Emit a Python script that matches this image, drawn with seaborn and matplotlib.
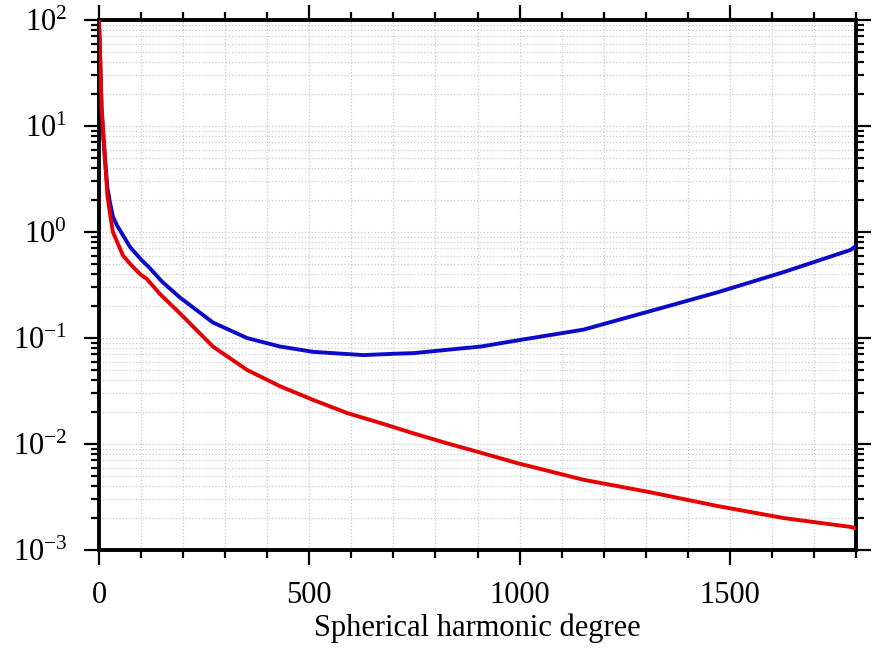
import matplotlib
matplotlib.use("Agg")
import matplotlib.pyplot as plt
import matplotlib.ticker as mticker
import seaborn as sns
import pandas as pd

# degree / value pairs
blue_deg = [0, 3, 6, 10, 15, 20, 26, 33, 43, 74, 100, 120, 150, 193, 271, 352,
            431, 510, 629, 700, 748, 836, 907, 995, 1152, 1312, 1471, 1629, 1788, 1800]
blue_val = [100, 40, 15, 8, 4.5, 2.6, 1.9, 1.4, 1.15, 0.72, 0.55, 0.46, 0.34, 0.24, 0.14, 0.10,
            0.083, 0.074, 0.069, 0.071, 0.072, 0.078, 0.083, 0.095, 0.12, 0.18, 0.27, 0.42, 0.68, 0.74]

red_deg = [0, 3, 6, 10, 14, 20, 26, 33, 57, 74, 98, 114, 145, 193, 271, 352, 431, 510,
           590, 669, 748, 826, 907, 995, 1152, 1312, 1471, 1629, 1788, 1800]
red_val = [100, 40, 15, 9, 5, 2.2, 1.5, 1.0, 0.60, 0.50, 0.40, 0.36, 0.26, 0.17, 0.083, 0.050, 0.035, 0.026,
           0.0196, 0.0158, 0.0126, 0.0102, 0.0083, 0.0066, 0.0046, 0.0035, 0.0026, 0.0020, 0.00165, 0.0016]

x_ticks = [0, 500, 1000, 1500]
x_label = "Spherical harmonic degree"

sns.set_theme(style="white")
plt.rcParams['font.family'] = ['Liberation Serif', 'DejaVu Serif']
plt.rcParams['mathtext.fontset'] = 'stix'
plt.rcParams['text.color'] = 'black'
plt.rcParams['xtick.color'] = 'black'
plt.rcParams['ytick.color'] = 'black'
plt.rcParams['axes.labelcolor'] = 'black'

fig = plt.figure(figsize=(8.81, 6.52), dpi=100)
ax = fig.add_axes([0.1124, 0.1564, 0.8592, 0.8129])

blue = pd.DataFrame({"deg": blue_deg, "val": blue_val})
red = pd.DataFrame({"deg": red_deg, "val": red_val})
sns.lineplot(data=blue, x="deg", y="val", color="#0a0ac8", lw=2.8, ax=ax, zorder=3)
sns.lineplot(data=red, x="deg", y="val", color="#e60000", lw=2.8, ax=ax, zorder=4)

ax.set_yscale("log")
ax.set_xlim(0, 1800)
ax.set_ylim(1e-3, 1e2)
ax.set_xticks(x_ticks)
ax.xaxis.set_minor_locator(mticker.MultipleLocator(100))
ax.yaxis.set_major_locator(mticker.LogLocator(base=10, numticks=10))
ax.yaxis.set_minor_locator(mticker.LogLocator(base=10, subs=range(2, 10), numticks=20))
ax.yaxis.set_major_formatter(mticker.LogFormatterMathtext())
ax.yaxis.set_minor_formatter(mticker.NullFormatter())

ax.grid(True, which="both", color="#c8c8c8", linestyle=":", linewidth=0.9)
ax.set_axisbelow(True)

for s in ax.spines.values():
    s.set_color("black")
    s.set_linewidth(2.8)

ax.tick_params(which="both", direction="out", top=True, right=True, bottom=True, left=True,
               width=1.6)
ax.tick_params(which="major", length=11)
ax.tick_params(which="minor", length=6)
ax.tick_params(axis="x", labeltop=False, pad=11, labelsize=22)
ax.tick_params(axis="y", labelright=False, pad=12, labelsize=22)

ax.set_xlabel(x_label, fontsize=22, labelpad=3)
ax.set_ylabel("")

fig.savefig("out.png", dpi=100)
